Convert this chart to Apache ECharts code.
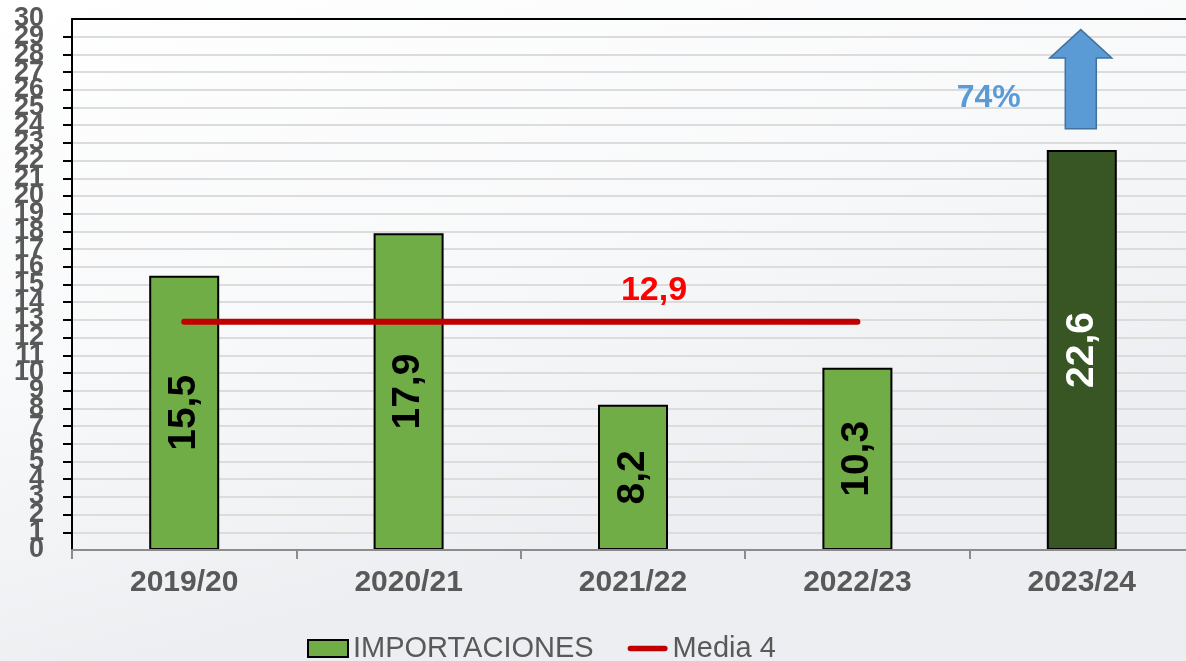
<!DOCTYPE html>
<html>
<head>
<meta charset="utf-8">
<script src="https://cdn.jsdelivr.net/npm/echarts@6/dist/echarts.min.js"></script>
<style>
html,body{margin:0;padding:0;overflow:hidden;width:1186px;height:661px;}
#c{width:1194px;height:661px;}
</style>
</head>
<body>
<div id="c"></div>
<script>
// ---- data ----
const categories = ['2019/20', '2020/21', '2021/22', '2022/23', '2023/24'];
const importaciones = [15.5, 17.9, 8.2, 10.3, 22.6];
const media4 = [12.9, 12.9, 12.9, 12.9, null];
const media4Label = '12,9';
const yTicks = [0, 30, 1]; // min, max, interval
const increaseLabel = '74%';
// arrow annotation anchored on last category (values in axis units)
const arrowTip = 29.4, arrowHeadBase = 27.8, arrowBottom = 23.8;
const pctTextValue = 25.5;

const FONT = '"Liberation Sans", Arial, sans-serif';
const GRAY = '#595959';

const chart = echarts.init(document.getElementById('c'), null, {renderer: 'canvas'});

const fmt = v => v.toFixed(1).replace('.', ',');

const barData = importaciones.map((v, i) => {
  const last = i === importaciones.length - 1;
  return {
    value: v,
    itemStyle: {color: last ? '#375623' : '#70AD47'},
    label: {color: last ? '#ffffff' : '#000000'}
  };
});

const lineData = media4.map((v, i) => {
  if (v == null) return '-';
  if (i === 2) {
    return {value: v, label: {show: true, position: 'top', distance: 14, offset: [21, 0],
      formatter: media4Label, color: '#FF0000', fontSize: 34, fontWeight: 'bold', fontFamily: FONT}};
  }
  return v;
});

const yLabelStyle = {fontSize: 27, fontWeight: 'bold', color: GRAY, margin: 28, fontFamily: FONT, hideOverlap: false};

chart.setOption({
  animation: false,
  backgroundColor: {
    type: 'linear', x: 0, y: 0, x2: 0.15, y2: 1,
    colorStops: [{offset: 0, color: '#ffffff'}, {offset: 0.55, color: '#f8f9fa'}, {offset: 1, color: '#eceef1'}]
  },
  textStyle: {fontFamily: FONT},
  grid: {left: 72, right: 0, top: 19, bottom: 111, containLabel: false},
  legend: {
    left: 302, top: 629,
    itemGap: 34,
    itemWidth: 40, itemHeight: 17,
    textStyle: {fontSize: 29, color: GRAY, fontFamily: FONT},
    data: [
      {name: 'IMPORTACIONES', icon: 'rect', itemStyle: {color: '#70AD47', borderColor: '#000', borderWidth: 2}},
      {name: 'Media 4', icon: 'path://M3,0 L40,0 A3,3 0 0 1 40,6 L3,6 A3,3 0 0 1 3,0 Z', itemStyle: {color: '#C00000', borderWidth: 0}}
    ]
  },
  xAxis: [{
    type: 'category',
    data: categories,
    position: 'bottom',
    axisLine: {onZero: false, lineStyle: {color: '#8c8c8c', width: 2}},
    axisTick: {show: true, length: 9, lineStyle: {color: '#8c8c8c', width: 2}},
    axisLabel: {fontSize: 30, fontWeight: 'bold', color: GRAY, margin: 18, fontFamily: FONT},
    splitLine: {show: false},
    z: 5
  }, {
    type: 'category',
    data: categories,
    position: 'top',
    axisLine: {show: true, onZero: false, lineStyle: {color: '#000', width: 2}},
    axisTick: {show: false},
    axisLabel: {show: false}
  }],
  yAxis: [{
    type: 'value',
    min: yTicks[0], max: yTicks[1], interval: yTicks[2],
    axisLine: {show: true, lineStyle: {color: '#000', width: 2}},
    axisTick: {show: true, length: 9, lineStyle: {color: '#000', width: 2}},
    axisLabel: Object.assign({showMinLabel: false, showMaxLabel: false}, yLabelStyle),
    splitLine: {lineStyle: {color: '#dcdcdc', width: 2}}
  }, {
    type: 'value',
    position: 'left',
    min: yTicks[0], max: yTicks[1], interval: yTicks[1] - yTicks[0],
    axisLine: {show: false},
    axisTick: {show: false},
    axisLabel: Object.assign({showMinLabel: true, showMaxLabel: true}, yLabelStyle),
    splitLine: {show: false}
  }],
  series: [{
    name: 'IMPORTACIONES',
    type: 'bar',
    data: barData,
    barWidth: 70,
    itemStyle: {borderColor: '#000', borderWidth: 2},
    label: {
      show: true, position: 'inside', rotate: 90,
      fontSize: 39, fontWeight: 'bold', fontFamily: FONT,
      formatter: p => fmt(p.value)
    },
    z: 2
  }, {
    name: 'Media 4',
    type: 'line',
    data: lineData,
    symbol: 'circle',
    symbolSize: 0,
    showSymbol: true,
    lineStyle: {color: '#C00000', width: 6, cap: 'round'},
    itemStyle: {color: '#C00000'},
    z: 3
  }]
});

function drawAnnotations() {
  const lastCat = categories[categories.length - 1];
  const tip = chart.convertToPixel({gridIndex: 0}, [lastCat, arrowTip]);
  const base = chart.convertToPixel({gridIndex: 0}, [lastCat, arrowHeadBase]);
  const bottom = chart.convertToPixel({gridIndex: 0}, [lastCat, arrowBottom]);
  const txt = chart.convertToPixel({gridIndex: 0}, [lastCat, pctTextValue]);
  const cx = tip[0] - 1;
  const headHalf = 31, shaftHalf = 15.5;
  chart.setOption({
    graphic: [{
      type: 'polygon',
      shape: {points: [
        [cx, tip[1]], [cx + headHalf, base[1]], [cx + shaftHalf, base[1]],
        [cx + shaftHalf, bottom[1]], [cx - shaftHalf, bottom[1]],
        [cx - shaftHalf, base[1]], [cx - headHalf, base[1]]
      ]},
      style: {fill: '#5B9BD5', stroke: '#41719C', lineWidth: 1.5},
      z: 10
    }, {
      type: 'text',
      x: cx - 92, y: txt[1],
      style: {text: increaseLabel, fill: '#5B9BD5', font: 'bold 32px ' + FONT, align: 'center', verticalAlign: 'middle'},
      z: 10
    }]
  });
}
drawAnnotations();
</script>
</body>
</html>
